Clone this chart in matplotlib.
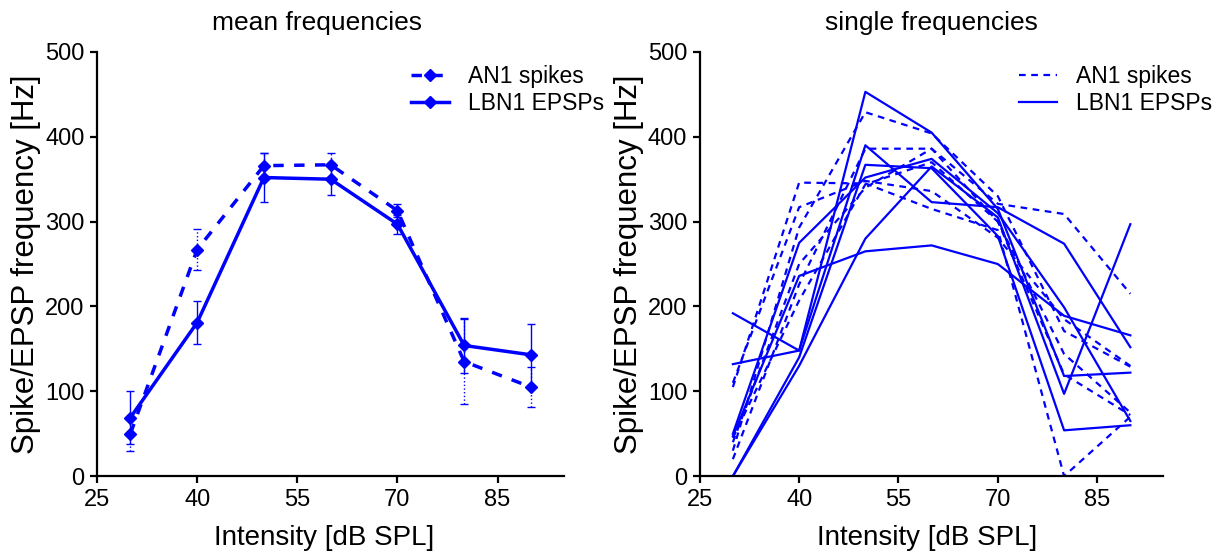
import matplotlib
matplotlib.use("Agg")
import matplotlib.pyplot as plt

plt.rcParams['font.family'] = ['Liberation Sans', 'DejaVu Sans']

# Stimulus intensities (dB SPL)
intensity = [30, 40, 50, 60, 70, 80, 90]

# Mean frequencies with error bars
an1_mean = [50, 267, 366, 367, 313, 135, 105]
an1_err = [20, 24, 15, 14, 8, 50, 24]
lbn1_mean = [69, 181, 352, 350, 297, 154, 143]
lbn1_err = [31, 25, 29, 19, 11, 33, 36]

# Single-frequency curves
an1_single = [
    [105, 346, 345, 315, 290, 0, 70],
    [30, 293, 429, 404, 330, 171, 129],
    [20, 226, 386, 386, 321, 309, 215],
    [45, 207, 344, 370, 300, 144, 75],
    [110, 317, 348, 336, 281, 185, 130],
    [40, 250, 340, 386, 300, 120, 72],
]
lbn1_single = [
    [192, 148, 453, 405, 315, 118, 122],
    [132, 148, 390, 323, 317, 274, 152],
    [50, 275, 352, 374, 310, 199, 65],
    [47, 236, 265, 272, 250, 189, 166],
    [0, 130, 280, 365, 305, 97, 297],
    [0, 140, 367, 363, 283, 54, 60],
]

xticks = [25, 40, 55, 70, 85]
yticks = [0, 100, 200, 300, 400, 500]
blue = '#0000ff'

W, H = 1217, 553
fig = plt.figure(figsize=(W / 100, H / 100), dpi=100)
ax1 = fig.add_axes([0.0797, 0.139, 0.384, 0.767])
ax2 = fig.add_axes([0.575, 0.139, 0.381, 0.767])


def style(ax, title, tx=0.5, lx=0.5):
    ax.set_xlim(25, 95)
    ax.set_ylim(0, 500)
    ax.set_xticks(xticks)
    ax.set_yticks(yticks)
    for s in ('top', 'right'):
        ax.spines[s].set_visible(False)
    for s in ('left', 'bottom'):
        ax.spines[s].set_linewidth(1.6)
    ax.tick_params(direction='out', length=5, width=1.6, labelsize=17, pad=4)
    ax.set_xlabel('Intensity [dB SPL]', fontsize=20)
    ax.xaxis.set_label_coords(lx, -0.115)
    ax.set_ylabel('Spike/EPSP frequency [Hz]', fontsize=22.5, labelpad=3)
    ax.set_title(title, fontsize=19, pad=16, x=tx)


def legend(ax, x_px):
    ax.legend(loc='upper left', frameon=False, fontsize=16.5,
              bbox_to_anchor=(x_px / W, 1 - 65 / H),
              bbox_transform=fig.transFigure, borderpad=0, borderaxespad=0,
              handlelength=1.65, handletextpad=0.85, labelspacing=0.18)


# Left panel: means with error bars
eb1 = ax1.errorbar(intensity, an1_mean, yerr=an1_err, fmt='none',
                   ecolor=blue, capsize=3, elinewidth=1, capthick=1)
for c in eb1[2]:
    c.set_linestyle(':')
ax1.errorbar(intensity, lbn1_mean, yerr=lbn1_err, fmt='none',
             ecolor=blue, capsize=3, elinewidth=1, capthick=1)
ax1.plot(intensity, an1_mean, color=blue, lw=2.5, ls=(0, (3, 3)),
         marker='D', ms=6, label='AN1 spikes')
ax1.plot(intensity, lbn1_mean, color=blue, lw=2.5, ls='-',
         marker='D', ms=6, label='LBN1 EPSPs')
legend(ax1, 411)

# Right panel: individual curves
for i, ys in enumerate(an1_single):
    ax2.plot(intensity, ys, color=blue, lw=1.6, ls=(0, (3, 2.5)),
             label='AN1 spikes' if i == 0 else None)
for i, ys in enumerate(lbn1_single):
    ax2.plot(intensity, ys, color=blue, lw=1.6, ls='-',
             label='LBN1 EPSPs' if i == 0 else None)
legend(ax2, 1019)

style(ax1, 'mean frequencies', tx=0.47, lx=0.485)
style(ax2, 'single frequencies', lx=0.49)

fig.savefig('out.png', dpi=100)
